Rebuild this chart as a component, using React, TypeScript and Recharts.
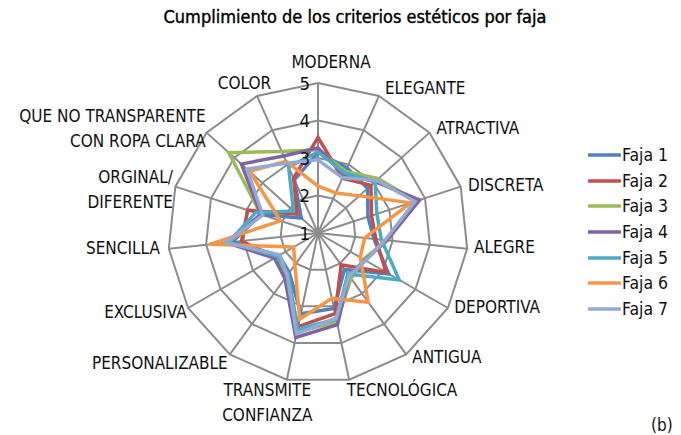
import { Legend, PolarAngleAxis, PolarGrid, PolarRadiusAxis, Radar, RadarChart } from "recharts";

const CRITERIA = [
  "MODERNA",
  "ELEGANTE",
  "ATRACTIVA",
  "DISCRETA",
  "ALEGRE",
  "DEPORTIVA",
  "ANTIGUA",
  "TECNOLÓGICA",
  "TRANSMITE\nCONFIANZA",
  "PERSONALIZABLE",
  "EXCLUSIVA",
  "SENCILLA",
  "ORGINAL/\nDIFERENTE",
  "QUE NO TRANSPARENTE\nCON ROPA CLARA",
  "COLOR",
];

const FAJA_1 = [3.15, 2.9, 2.78, 2.4, 2.5, 3.18, 2.2, 3.06, 3.2, 2.3, 2.2, 3.3, 2.6, 1.6, 2.55];
const FAJA_2 = [3.55, 2.6, 2.9, 2.5, 2.55, 3.1, 2.05, 3.2, 3.55, 2.45, 2.3, 3.05, 2.97, 1.75, 2.6];
const FAJA_3 = [3.22, 2.8, 3.17, 3.75, 2.85, 2.4, 2.5, 3.42, 3.7, 2.4, 2.3, 3.4, 2.6, 4.2, 3.38];
const FAJA_4 = [3.27, 2.7, 3.05, 3.85, 2.85, 2.45, 2.4, 3.5, 3.85, 2.5, 2.34, 3.47, 2.6, 3.75, 3.25];
const FAJA_5 = [3.16, 2.75, 3.05, 2.65, 2.7, 3.5, 2.35, 3.35, 3.62, 2.35, 2.25, 3.4, 2.75, 1.88, 2.93];
const FAJA_6 = [2.25, 2.17, 2.48, 3.6, 2.25, 2.3, 3.28, 2.78, 3.35, 2.05, 1.75, 3.9, 2.05, 3.45, 3.1];
const FAJA_7 = [2.95, 2.61, 3.1, 3.72, 2.8, 2.47, 2.41, 3.32, 3.75, 2.4, 2.17, 3.47, 2.55, 3.55, 3.04];

const SERIES = [
  { key: "f1", name: "Faja 1", values: FAJA_1, color: "#4F81BD" },
  { key: "f2", name: "Faja 2", values: FAJA_2, color: "#C0504D" },
  { key: "f3", name: "Faja 3", values: FAJA_3, color: "#9BBB59" },
  { key: "f4", name: "Faja 4", values: FAJA_4, color: "#8064A2" },
  { key: "f5", name: "Faja 5", values: FAJA_5, color: "#4BACC6" },
  { key: "f6", name: "Faja 6", values: FAJA_6, color: "#F79646" },
  { key: "f7", name: "Faja 7", values: FAJA_7, color: "#93A9D6" },
];

const data = CRITERIA.map((c, i) => {
  const row: Record<string, string | number> = { criterio: c };
  SERIES.forEach((s) => (row[s.key] = s.values[i]));
  return row;
});

const FONT = "'Liberation Sans Narrow', 'Arial Narrow', 'DejaVu Sans Condensed', sans-serif";
const CX = 318;
const CY = 233;
const R = 150;
const LABEL_R = 162;

// nudges so the category labels sit where Excel put them
const LABEL_LAYOUT: { dx: number; dy: number; anchor: "start" | "middle" | "end" }[] = [
  { dx: 13, dy: -9, anchor: "middle" },
  { dx: 1, dy: 3, anchor: "start" },
  { dx: -2, dy: 3, anchor: "start" },
  { dx: -4, dy: 2, anchor: "start" },
  { dx: -5, dy: -3, anchor: "start" },
  { dx: -4, dy: -7, anchor: "start" },
  { dx: -1, dy: -7, anchor: "start" },
  { dx: -5, dy: -1, anchor: "start" },
  { dx: -17, dy: -1, anchor: "middle" },
  { dx: 5, dy: -1, anchor: "end" },
  { dx: 9, dy: -2, anchor: "end" },
  { dx: 3, dy: -2, anchor: "end" },
  { dx: 9, dy: -6, anchor: "end" },
  { dx: 8, dy: -9, anchor: "end" },
  { dx: 19, dy: -2, anchor: "end" },
];

function AngleTick(props: any) {
  const value: string = props.payload?.value ?? "";
  const i = CRITERIA.indexOf(value);
  if (i < 0) return null;
  const a = ((90 - i * (360 / CRITERIA.length)) * Math.PI) / 180;
  const bx = CX + LABEL_R * Math.cos(a);
  const by = CY - LABEL_R * Math.sin(a);
  const l = LABEL_LAYOUT[i];
  const lines = value.split("\n");
  return (
    <text
      x={bx + l.dx}
      y={by + l.dy}
      textAnchor={l.anchor}
      fontFamily={FONT}
      fontSize={17}
      fill="#111"
    >
      {lines.map((ln, k) => (
        <tspan key={k} x={bx + l.dx} dy={k === 0 ? 0 : 25} dominantBaseline="central">
          {ln}
        </tspan>
      ))}
    </text>
  );
}

function RadiusTick(props: any) {
  const { x, y, payload } = props;
  return (
    <text
      x={x - 8}
      y={y}
      textAnchor="end"
      dominantBaseline="central"
      fontFamily={FONT}
      fontSize={18.5}
      fill="#111"
    >
      {payload.value}
    </text>
  );
}

function LegendBox() {
  return (
    <div style={{ fontFamily: FONT, fontSize: 17.5, color: "#111" }}>
      {SERIES.map((s) => (
        <div key={s.key} style={{ display: "flex", alignItems: "center", height: 25.7 }}>
          <svg width={33} height={6}>
            <line x1={1} y1={3} x2={32} y2={3} stroke={s.color} strokeWidth={3.5} strokeLinecap="round" />
          </svg>
          <span style={{ marginLeft: 1 }}>{s.name}</span>
        </div>
      ))}
    </div>
  );
}

export default function App() {
  return (
    <div
      style={{
        position: "fixed",
        left: 0,
        top: 0,
        width: 681,
        height: 435,
        background: "#fff",
        fontFamily: FONT,
      }}
    >
      <div
        style={{
          position: "absolute",
          left: 0,
          width: 710,
          top: 6,
          textAlign: "center",
          fontSize: 18,
          color: "#000",
          WebkitTextStroke: "0.4px #000",
        }}
      >
        Cumplimiento de los criterios estéticos por faja
      </div>
      <RadarChart
        width={681}
        height={435}
        data={data}
        cx={CX}
        cy={CY}
        outerRadius={R}
        margin={{ top: 0, right: 0, bottom: 0, left: 0 }}
      >
        <PolarGrid gridType="polygon" stroke="#8c8c8c" strokeWidth={2} />
        <PolarAngleAxis dataKey="criterio" tick={<AngleTick />} tickLine={false} axisLine={false} />
        <PolarRadiusAxis
          angle={90}
          domain={[1, 5]}
          tickCount={5}
          axisLine={false}
          tick={<RadiusTick />}
        />
        {SERIES.map((s) => (
          <Radar
            key={s.key}
            name={s.name}
            dataKey={s.key}
            stroke={s.color}
            strokeWidth={3.5}
            strokeLinejoin="miter"
            fill="none"
            fillOpacity={0}
            dot={false}
            isAnimationActive={false}
          />
        ))}
        <Legend
          layout="vertical"
          align="right"
          verticalAlign="top"
          content={<LegendBox />}
          wrapperStyle={{ left: 588, top: 142, width: 90 }}
        />
      </RadarChart>
      <div style={{ position: "absolute", left: 651, top: 415, fontSize: 17, color: "#111" }}>(b)</div>
    </div>
  );
}
